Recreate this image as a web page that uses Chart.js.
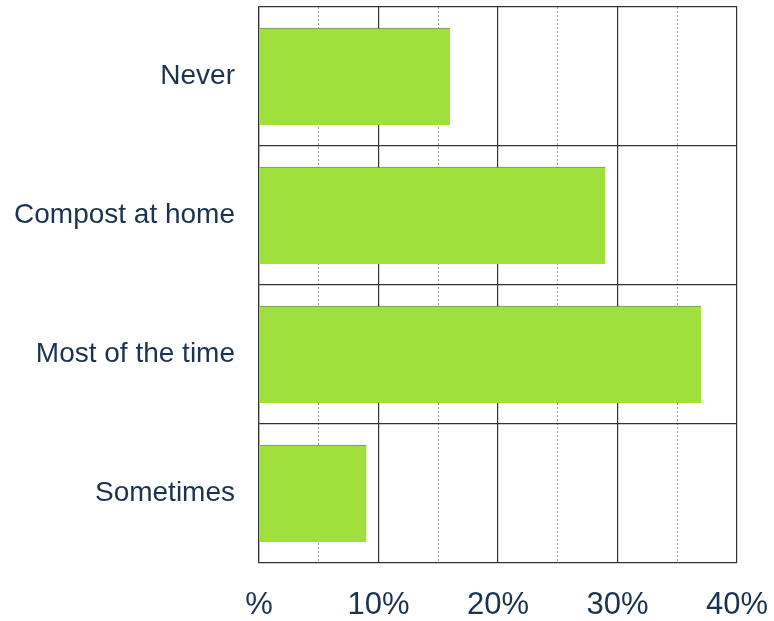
<!DOCTYPE html>
<html>
<head>
<meta charset="utf-8">
<script src="https://cdn.jsdelivr.net/npm/chart.js@4"></script>
<style>
  html, body { margin: 0; padding: 0; background: #ffffff; }
  #wrap { width: 774px; height: 621px; position: relative; }
</style>
</head>
<body>
<div id="wrap"><canvas id="compost-chart"></canvas></div>
<script>
const categories = ["Never", "Compost at home", "Most of the time", "Sometimes"];
const shares = [16, 29, 37, 9];
const tickLabels = ["%", "10%", "20%", "30%", "40%"];

const textColor = "#1c3350";

// drop the automatic label overhang padding, layout.padding sets the margins
function noOverhang(scale) {
  scale.paddingTop = 0;
  scale.paddingBottom = 0;
  scale.paddingLeft = 0;
  scale.paddingRight = 0;
}

function initChart() {
  const ctx = document.getElementById("compost-chart").getContext("2d");
  new Chart(ctx, {
    type: "bar",
    data: {
      labels: categories,
      datasets: [
        {
          label: "Share",
          data: shares,
          backgroundColor: "#a0e03c",
          borderColor: "#5a6b4a",
          borderWidth: { top: 1, right: 0, bottom: 0, left: 0 },
          borderSkipped: false,
          barPercentage: 0.7,
          categoryPercentage: 1,
        },
      ],
    },
    options: {
      indexAxis: "y",
      responsive: true,
      maintainAspectRatio: false,
      animation: false,
      layout: {
        padding: { top: 7, right: 37, bottom: 0, left: 8 },
      },
      scales: {
        x: {
          type: "linear",
          position: "bottom",
          min: 0,
          max: 40,
          afterFit: (scale) => {
            noOverhang(scale);
            scale.height = 58;
          },
          ticks: {
            stepSize: 10,
            padding: 24,
            color: textColor,
            font: { family: "Liberation Sans", size: 31 },
            callback: (value) => tickLabels[Math.round(value / 10)],
          },
          grid: {
            color: "#333333",
            lineWidth: 1.2,
            drawTicks: false,
          },
          border: { display: false },
        },
        x2: {
          type: "linear",
          position: "bottom",
          min: 0,
          max: 40,
          afterFit: (scale) => {
            noOverhang(scale);
            scale.height = 0;
          },
          ticks: { stepSize: 5, display: false },
          grid: {
            color: (c) => (c.tick && c.tick.value % 10 === 0 ? "rgba(0,0,0,0)" : "#9a9a9a"),
            lineWidth: 1,
            drawTicks: false,
          },
          border: { display: false, dash: [2, 2] },
        },
        y: {
          afterFit: (scale) => {
            noOverhang(scale);
            scale.width = 251;
          },
          ticks: {
            padding: 24,
            color: textColor,
            font: { family: "Liberation Sans", size: 28 },
          },
          grid: {
            offset: true,
            color: "#333333",
            lineWidth: 1.2,
            drawTicks: false,
          },
          border: { color: "#333333", width: 1.2 },
        },
      },
      plugins: {
        legend: { display: false },
        tooltip: { enabled: false },
      },
    },
  });
}

initChart();
</script>
</body>
</html>
